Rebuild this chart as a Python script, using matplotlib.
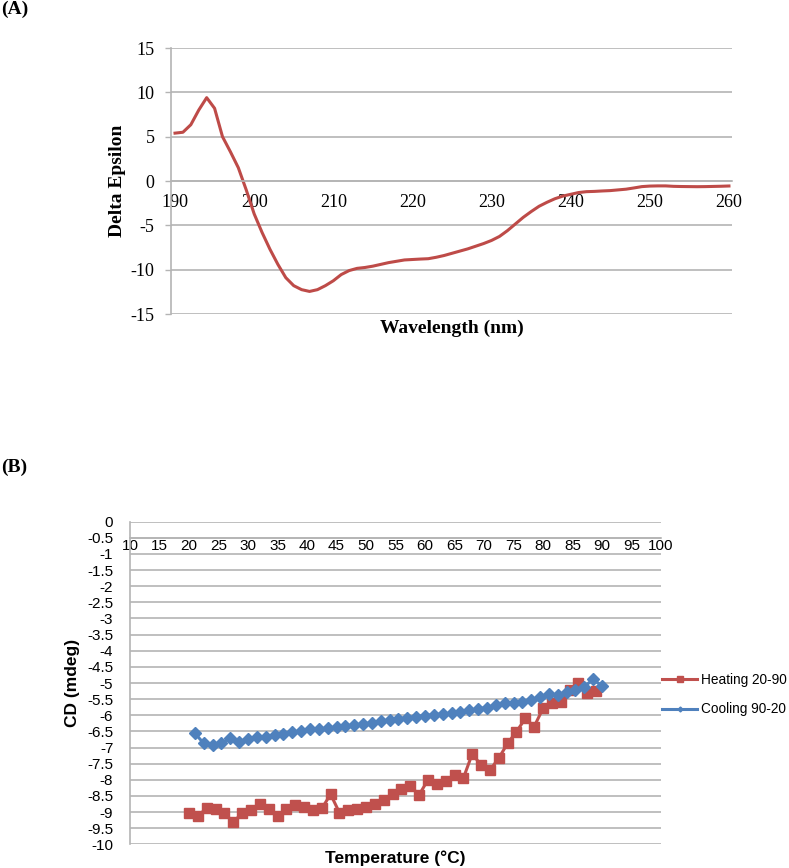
import matplotlib
matplotlib.use("Agg")
import matplotlib.pyplot as plt
from matplotlib.lines import Line2D

plt.rcParams["axes.unicode_minus"] = False

# Panel A: CD spectrum
wavelength = [190, 191, 192, 193, 194, 195, 196, 197, 198, 199,
              200, 201, 202, 203, 204, 205, 206, 207, 208, 209,
              210, 211, 212, 213, 214, 215, 216, 217, 218, 219,
              220, 221, 222, 223, 224, 225, 226, 227, 228, 229,
              230, 231, 232, 233, 234, 235, 236, 237, 238, 239,
              240, 241, 242, 243, 244, 245, 246, 247, 248, 249,
              250, 251, 252, 253, 254, 255, 256, 257, 258, 259, 260]
delta_eps = [5.4, 5.5, 6.35, 8.0, 9.4, 8.2, 5.0, 3.3, 1.5, -1.0,
             -3.7, -5.8, -7.7, -9.4, -10.9, -11.8, -12.25, -12.45, -12.25, -11.8,
             -11.25, -10.55, -10.1, -9.85, -9.75, -9.6, -9.4, -9.2, -9.05, -8.9,
             -8.85, -8.8, -8.76, -8.6, -8.4, -8.15, -7.9, -7.65, -7.35, -7.05,
             -6.7, -6.25, -5.6, -4.85, -4.1, -3.45, -2.85, -2.4, -2.0, -1.7,
             -1.5, -1.3, -1.2, -1.17, -1.12, -1.08, -1.0, -0.92, -0.78, -0.63,
             -0.57, -0.55, -0.55, -0.6, -0.62, -0.63, -0.64, -0.63, -0.61, -0.59, -0.56]

# Panel B: thermal melt
heat_T = [20, 21.5, 23, 24.5, 26, 27.5, 29, 30.5, 32, 33.5,
          35, 36.5, 38, 39.5, 41, 42.5, 44, 45.5, 47, 48.5,
          50, 51.5, 53, 54.5, 56, 57.5, 59, 60.5, 62, 63.5,
          65, 66.5, 68, 69.5, 71, 72.5, 74, 75.5, 77, 78.5,
          80, 81.5, 83, 84.5, 86, 87.5, 89]
heat_cd = [-9.04, -9.12, -8.88, -8.92, -9.03, -9.32, -9.03, -8.93, -8.75, -8.91,
           -9.12, -8.91, -8.78, -8.85, -8.93, -8.89, -8.45, -9.02, -8.94, -8.90,
           -8.83, -8.74, -8.62, -8.45, -8.30, -8.19, -8.47, -8.00, -8.13, -8.04,
           -7.85, -7.95, -7.20, -7.54, -7.70, -7.33, -6.87, -6.51, -6.10, -6.35,
           -5.79, -5.62, -5.58, -5.22, -4.99, -5.32, -5.26]
cool_T = [21, 22.5, 24, 25.5, 27, 28.5, 30, 31.5, 33, 34.5,
          36, 37.5, 39, 40.5, 42, 43.5, 45, 46.5, 48, 49.5,
          51, 52.5, 54, 55.5, 57, 58.5, 60, 61.5, 63, 64.5,
          66, 67.5, 69, 70.5, 72, 73.5, 75, 76.5, 78, 79.5,
          81, 82.5, 84, 85.5, 87, 88.5, 90]
cool_cd = [-6.56, -6.87, -6.92, -6.85, -6.72, -6.82, -6.74, -6.68, -6.66, -6.62,
           -6.58, -6.53, -6.48, -6.44, -6.42, -6.40, -6.37, -6.33, -6.30, -6.27,
           -6.23, -6.19, -6.15, -6.11, -6.07, -6.04, -6.01, -5.98, -5.96, -5.94,
           -5.90, -5.85, -5.80, -5.76, -5.69, -5.63, -5.61, -5.58, -5.53, -5.43,
           -5.34, -5.37, -5.27, -5.22, -5.11, -4.89, -5.09]

grid_col = "#b4b4b4"
serif = "Liberation Serif"
sans = "Liberation Sans"

fig = plt.figure(figsize=(7.89, 8.68), dpi=100)

# ---------- (A) ----------
ax1 = fig.add_axes([0.2167, 0.6382, 0.711, 0.3065])
ax1.plot(wavelength, delta_eps, color="#BE4B48", lw=2.2, solid_joinstyle="round")
ax1.set_xlim(189.49, 260.38)
ax1.set_ylim(-15, 15)
ax1.set_yticks(range(-15, 16, 5))
ax1.set_xticks(range(190, 261, 10))
ax1.grid(axis="y", color=grid_col, lw=1.2)
ax1.set_axisbelow(True)
for s in ["top", "right"]:
    ax1.spines[s].set_visible(False)
ax1.spines["bottom"].set_position(("data", 0))
ax1.spines["bottom"].set_color(grid_col)
ax1.spines["bottom"].set_linewidth(1.2)
ax1.spines["left"].set_color(grid_col)
ax1.spines["left"].set_linewidth(1.2)
ax1.tick_params(axis="y", length=4.3, width=1.0, color=grid_col, pad=7.5, labelsize=13)
ax1.tick_params(axis="x", length=0, pad=9, labelsize=13)
for lab in ax1.get_xticklabels() + ax1.get_yticklabels():
    lab.set_fontfamily(serif)
ax1.set_ylabel("Delta Epsilon", fontfamily=serif, fontweight="bold", fontsize=14, va="center")
ax1.yaxis.set_label_coords(-0.0954, 0.5)
ax1.set_xlabel("Wavelength (nm)", fontfamily=serif, fontweight="bold", fontsize=14, va="center")
ax1.xaxis.set_label_coords(0.5, -0.0545)

fig.text(0.002, 1 - 9.5 / 868, "(A)", fontfamily=serif, fontweight="bold", fontsize=14,
         ha="left", va="center")
fig.text(0.002, 1 - 467.5 / 868, "(B)", fontfamily=serif, fontweight="bold", fontsize=14,
         ha="left", va="center")

# ---------- (B) ----------
ax2 = fig.add_axes([0.16477, 0.0273, 0.673, 0.37166])
ax2.plot(heat_T, heat_cd, color="#C0504D", lw=2.2, marker="s", ms=7.3,
         label="Heating 20-90")
ax2.plot(cool_T, cool_cd, color="#4F81BD", lw=2.2, marker="D", ms=6.2,
         label="Cooling 90-20")
ax2.set_xlim(10, 100)
ax2.set_ylim(-10, 0)
yt = [-v / 2 for v in range(0, 21)]
ax2.set_yticks(yt)
ax2.set_yticklabels([f"{v:g}" if v != 0 else "0" for v in yt])
ax2.set_xticks(range(10, 101, 5))
ax2.grid(axis="y", color=grid_col, lw=1.2)
ax2.set_axisbelow(True)
for s in ["top", "right"]:
    ax2.spines[s].set_visible(False)
ax2.spines["bottom"].set_position(("data", -0.5))
ax2.spines["bottom"].set_color(grid_col)
ax2.spines["bottom"].set_linewidth(1.2)
ax2.spines["left"].set_color(grid_col)
ax2.spines["left"].set_linewidth(1.2)
ax2.tick_params(axis="y", length=0, pad=12, labelsize=11)
ax2.tick_params(axis="x", length=0, pad=1, labelsize=11)
for lab in ax2.get_xticklabels() + ax2.get_yticklabels():
    lab.set_fontfamily(sans)
ax2.set_ylabel("CD (mdeg)", fontfamily=sans, fontweight="bold", fontsize=12.5, va="center")
ax2.yaxis.set_label_coords(-0.108, 0.5)
ax2.set_xlabel("Temperature (°C)", fontfamily=sans, fontweight="bold", fontsize=12.5, va="center")
ax2.xaxis.set_label_coords(0.5, -0.0434)

handles = [Line2D([], [], color="#C0504D", lw=2.2, marker="s", ms=5),
           Line2D([], [], color="#4F81BD", lw=2.2, marker="D", ms=2.5)]
fig.legend(handles, ["Heating 20-90", "Cooling 90-20"], loc="center left",
           bbox_to_anchor=(662 / 789, 1 - 694.5 / 868), frameon=False,
           borderpad=0, borderaxespad=0, handlelength=2.6, handletextpad=0.25,
           labelspacing=1.15, prop={"family": sans, "size": 9.8})

fig.savefig("out.png", dpi=100)
